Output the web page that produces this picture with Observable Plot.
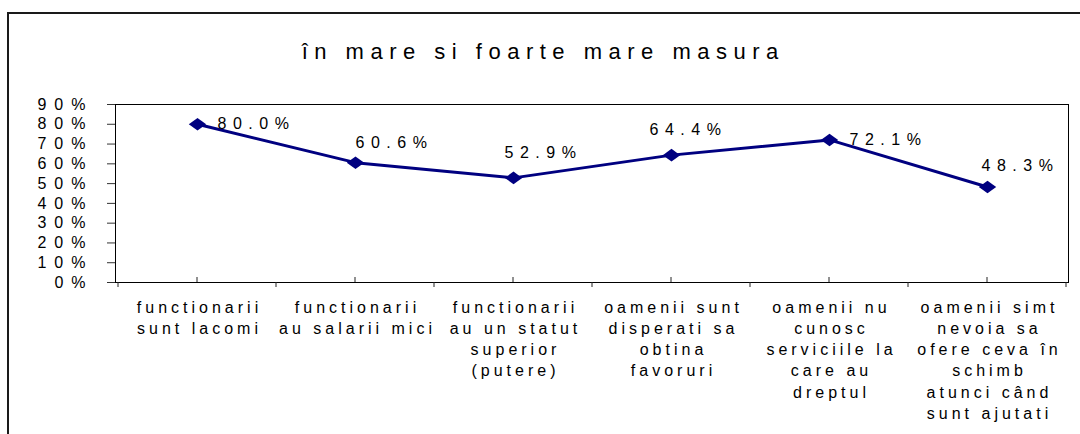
<!DOCTYPE html>
<html><head><meta charset="utf-8">
<script src="https://cdn.jsdelivr.net/npm/d3@7"></script>
<script src="https://cdn.jsdelivr.net/npm/@observablehq/plot@0.6"></script>
<style>
body{margin:0;background:#fff;font-family:"Liberation Sans",Arial,sans-serif;}
#wrap{position:relative;width:1080px;height:434px;overflow:hidden;background:#fff}
#border{position:absolute;left:7px;top:12px;width:1200px;height:600px;border-left:2px solid #1a1a1a;border-top:2px solid #1a1a1a;pointer-events:none;z-index:2}
#title{height:90px;box-sizing:border-box;padding-top:39px;text-align:center;font-size:22px;letter-spacing:6.5px;padding-left:6.5px;color:#000;line-height:26px;white-space:nowrap}
#chart svg{display:block}
g[aria-label="y-axis tick label"] text{letter-spacing:8px}
g[aria-label="x-axis tick label"] text{letter-spacing:4px}
</style>
</head><body>
<div id="wrap">
  <div id="border"></div>
  <div id="title">în mare si foarte mare masura</div>
  <div id="chart"></div>
</div>
<script>
const categories = [
  "functionarii\nsunt lacomi",
  "functionarii\nau salarii mici",
  "functionarii\nau un statut\nsuperior\n(putere)",
  "oamenii sunt\ndisperati sa\nobtina\nfavoruri",
  "oamenii nu\ncunosc\nserviciile la\ncare au\ndreptul",
  "oamenii simt\nnevoia sa\nofere ceva în\nschimb\natunci când\nsunt ajutati"
];
const values = [0.800, 0.606, 0.529, 0.644, 0.721, 0.483];
const yTicks = [0, 0.1, 0.2, 0.3, 0.4, 0.5, 0.6, 0.7, 0.8, 0.9];

const rows = categories.map((c, i) => ({category: c, value: values[i]}));

// label placement relative to each point (layout, not data)
const labelPlacement = [[20, 0], [0, -20], [-9, -25], [-22, -25], [20, 0], [-6, -21]];

const diamond = {
  draw(context, size) {
    const r = Math.sqrt(size / Math.PI);
    const w = r, h = r * 0.72;
    context.moveTo(0, -h);
    context.lineTo(w, 0);
    context.lineTo(0, h);
    context.lineTo(-w, 0);
    context.closePath();
  }
};

const navy = "#000080";
const fmt = d3.format(".1%");

const categoryTicks = (index, scales, values, dimensions) => {
  const x = scales.x;
  const bw = scales.scales.x.bandwidth;
  const y0 = scales.y(0);
  const g = d3.create("svg:g").attr("stroke", "#222").attr("stroke-width", 1);
  const bounds = categories.map(c => x(c)).concat([x(categories[categories.length - 1]) + bw]);
  for (const b of bounds) {
    g.append("line").attr("x1", b).attr("x2", b).attr("y1", y0).attr("y2", y0 + 5);
  }
  for (const c of categories) {
    const cx = x(c) + bw / 2;
    g.append("line").attr("x1", cx).attr("x2", cx).attr("y1", y0 - 5).attr("y2", y0);
  }
  return g.node();
};

const labelMarks = rows.map((r, i) => Plot.text([r], {
  x: "category", y: "value", text: d => fmt(d.value),
  textAnchor: "start", dx: labelPlacement[i][0], dy: labelPlacement[i][1],
  fontSize: 16, fill: "#000"
}));

const chart = Plot.plot({
  width: 1080,
  height: 344,
  marginLeft: 115,
  marginRight: 12,
  marginTop: 14,
  marginBottom: 152,
  style: {fontFamily: "'Liberation Sans', Arial, sans-serif", fontSize: "16px", color: "#000", background: "transparent"},
  x: {type: "band", domain: categories, padding: 0, label: null},
  y: {domain: [0, 0.9], label: null},
  marks: [
    Plot.axisY({ticks: yTicks, tickFormat: d3.format(".0%"), tickSize: 8, tickPadding: 14, fontSize: 16, label: null, stroke: "#333"}),
    Plot.axisX({tickSize: 0, tickPadding: 15, lineHeight: 1.33, fontSize: 16, label: null, dx: 2}),
    Plot.frame({stroke: "#000", strokeWidth: 1}),
    categoryTicks,
    Plot.line(rows, {x: "category", y: "value", stroke: navy, strokeWidth: 3}),
    Plot.dot(rows, {x: "category", y: "value", symbol: diamond, r: 8.7, fill: navy, stroke: "none"}),
    ...labelMarks
  ]
});
d3.select(chart).selectAll("text")
  .filter(function() { return /^\d+\.\d%$/.test(this.textContent); })
  .style("letter-spacing", "6.5px");
document.getElementById("chart").appendChild(chart);
</script>
</body></html>
